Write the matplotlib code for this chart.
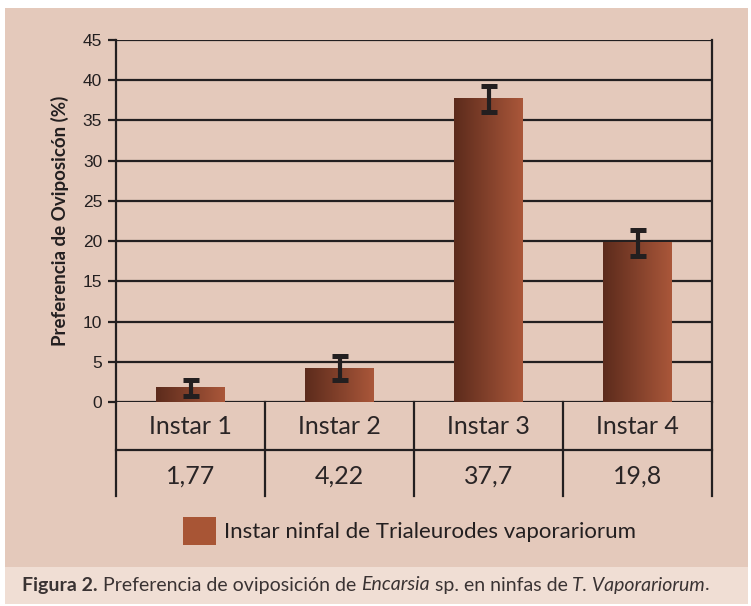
import numpy as np
import matplotlib
matplotlib.use("Agg")
import matplotlib.pyplot as plt
from matplotlib.patches import Rectangle, Patch
from matplotlib.transforms import blended_transform_factory

# ---- data ----
categories = ["Instar 1", "Instar 2", "Instar 3", "Instar 4"]
values = [1.77, 4.22, 37.7, 19.8]
value_labels = ["1,77", "4,22", "37,7", "19,8"]
errors = [1.0, 1.5, 1.6, 1.6]
y_ticks = [0, 5, 10, 15, 20, 25, 30, 35, 40, 45]
y_label = "Preferencia de Oviposicón (%)"
legend_label = "Instar ninfal de Trialeurodes vaporariorum"

W, H = 751, 606
BG = "#E4C9BB"
CAP_BG = "#F0DED4"
DARK = "#231F20"

fig = plt.figure(figsize=(W / 100, H / 100), dpi=100)
fig.patch.set_facecolor("white")

def px(x0, y0, x1, y1):
    return (x0 / W, 1 - y1 / H, (x1 - x0) / W, (y1 - y0) / H)

r = px(5, 8, 748, 567)
fig.patches.append(Rectangle((r[0], r[1]), r[2], r[3], transform=fig.transFigure,
                             facecolor=BG, edgecolor="none", zorder=-10))
r = px(5, 567, 748, 604)
fig.patches.append(Rectangle((r[0], r[1]), r[2], r[3], transform=fig.transFigure,
                             facecolor=CAP_BG, edgecolor="none", zorder=-10))

ax = fig.add_axes(px(116, 40, 712, 402))
ax.set_facecolor("none")
x = np.arange(len(categories))

# gridlines
for t in y_ticks:
    ax.axhline(t, color=DARK, lw=1.6, zorder=1)

bars = ax.bar(x, values, width=0.46, color="none", edgecolor="none", zorder=2)
grad = np.linspace(0, 1, 256).reshape(1, -1)
cmap = matplotlib.colors.LinearSegmentedColormap.from_list("g", ["#5C2B1C", "#AA573A"])
for b in bars:
    x0, w, h = b.get_x(), b.get_width(), b.get_height()
    ax.imshow(grad, cmap=cmap, extent=(x0, x0 + w, 0, h), aspect="auto", zorder=2,
              interpolation="bilinear")
ax.set_xlim(-0.5, len(categories) - 0.5)
ax.set_ylim(0, 45)

ax.errorbar(x, values, yerr=errors, fmt="none", ecolor=DARK, elinewidth=3.0,
            capsize=5.5, capthick=3.6, zorder=3)

for s in ["top", "bottom"]:
    ax.spines[s].set_visible(False)
for s in ["left", "right"]:
    ax.spines[s].set_color(DARK)
    ax.spines[s].set_linewidth(1.6)

ax.set_yticks(y_ticks)
ax.set_yticklabels([str(t) for t in y_ticks],
                   fontfamily=["Liberation Sans Narrow", "Liberation Sans", "DejaVu Sans"],
                   fontsize=12.5, color=DARK)
ax.tick_params(axis="y", length=6, width=1.6, color=DARK, pad=4)
ax.set_xticks([])
ax.set_ylabel(y_label, fontsize=13.5, fontweight="bold", color=DARK,
              fontfamily=["Lato", "DejaVu Sans"], labelpad=10)

# table below the axes
tr = blended_transform_factory(ax.transData, ax.transAxes)
y_mid = (402 - 450) / 362
y_bot = (402 - 496) / 362
for xb in np.arange(-0.5, len(categories), 1.0):
    ax.plot([xb, xb], [0, y_bot], transform=tr, color=DARK, lw=1.6, clip_on=False)
ax.plot([-0.5, len(categories) - 0.5], [y_mid, y_mid], transform=tr, color=DARK,
        lw=1.6, clip_on=False)
for i in range(len(categories)):
    ax.text(x[i], (402 - 427) / 362, categories[i], transform=tr, ha="center",
            va="center", fontsize=18, color="#2A2526", fontfamily="Lato")
    ax.text(x[i], (402 - 476) / 362, value_labels[i], transform=tr, ha="center",
            va="center", fontsize=18, color="#2A2526", fontfamily="Lato")

# legend
fig.legend(handles=[Patch(facecolor="#A85535", edgecolor="none")], labels=[legend_label],
           loc="center left", bbox_to_anchor=(183 / W, 1 - 531 / H), frameon=False,
           handlelength=1.5, handleheight=1.5, handletextpad=0.35,
           borderpad=0, borderaxespad=0,
           prop={"family": "Lato", "size": 16})
for t in fig.legends[0].get_texts():
    t.set_color(DARK)

# caption
cap_y = 1 - 585 / H
parts = [("Figura 2.", "normal", "bold"),
         (" Preferencia de oviposición de ", "normal", "normal"),
         ("Encarsia", "italic", "normal"),
         (" sp. en ninfas de ", "normal", "normal"),
         ("T. Vaporariorum", "italic", "normal"),
         (".", "normal", "normal")]
fig.canvas.draw()
renderer = fig.canvas.get_renderer()
xpos = 22
for txt, style, weight in parts:
    t = fig.text(xpos / W, cap_y, txt, fontsize=14, style=style, fontweight=weight,
                 color="#3A3333", va="center", ha="left", fontfamily="Lato")
    bb = t.get_window_extent(renderer=renderer)
    xpos += bb.width

fig.savefig("out.png", dpi=100, facecolor=fig.get_facecolor())
